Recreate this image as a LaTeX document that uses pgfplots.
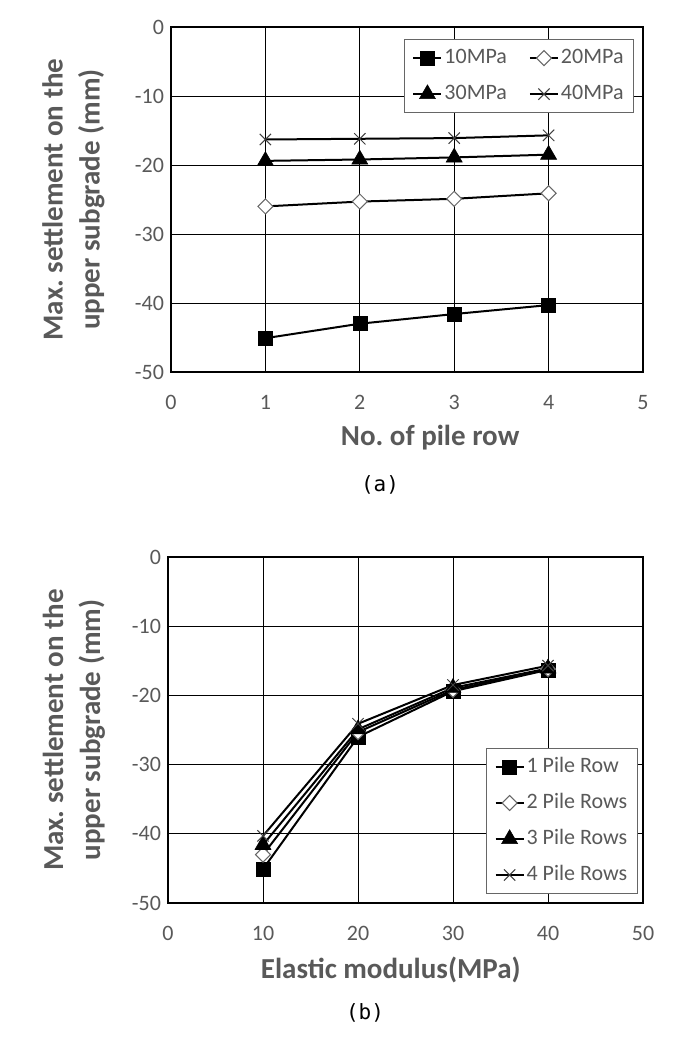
\documentclass[border=0pt]{standalone}
\usepackage{fontspec}
\setmainfont{Carlito}
\newfontfamily\capfont{DejaVu Sans Mono}
\usepackage{pgfplots}
\pgfplotsset{compat=1.18}
\definecolor{txt}{HTML}{595959}
\tikzset{lbl/.style={font=\bfseries\fontsize{14.5bp}{18.5bp}\selectfont, text=txt, align=center}}
\pgfplotsset{
  common/.style={
    scale only axis,
    axis line style={black, line width=0.6bp},
    grid=major,
    major grid style={black, line width=0.5bp},
    major tick length=0pt,
    ymin=-50, ymax=0,
    ytick={-50,-40,-30,-20,-10,0},
    yticklabels={-50,-40,-30,-20,-10,0},
    ticklabel style={font=\fontsize{11bp}{13bp}\selectfont, text=txt},
    xticklabel style={yshift=-8bp},
    legend style={draw=black!60, line width=0.5bp, fill=white,
      font=\fontsize{11bp}{13bp}\selectfont, text=txt,
      inner xsep=4bp, inner ysep=3bp, row sep=5.5bp,
      nodes={inner sep=1bp, text height=8bp, text depth=2.5bp}},
    legend cell align=left,
    legend image code/.code={\draw[mark repeat=2,mark phase=2,##1] plot coordinates {(0bp,0bp) (7bp,0bp) (14bp,0bp)};},
  },
  s1/.style={black, line width=1bp, mark=square*, mark size=3.5bp, mark options={solid, fill=black, draw=black, line width=0.3bp}},
  s2/.style={black, line width=1bp, mark=square*, mark size=2.65bp, mark options={solid, rotate=45, fill=white, draw=black!60, line width=0.5bp}},
  s3/.style={black, line width=1bp, mark=triangle*, mark size=4.6bp, mark options={solid, fill=black, draw=black, line width=0.3bp}},
  s4/.style={black, line width=1bp, mark=x, mark size=4bp, mark options={solid, draw=black!75, line width=0.5bp}},
}
\begin{document}
\begin{tikzpicture}
\path[use as bounding box] (0,0) rectangle (342.5bp,-518.5bp);
% ---------- (a)
\begin{axis}[common,
  at={(85.5bp,-186bp)}, anchor=south west,
  width=236bp, height=172.5bp,
  xmin=0, xmax=5, xtick={0,1,2,3,4,5}, xticklabels={0,1,2,3,4,5},
  every axis y label/.style={at={(rel axis cs:0,0.5)}, xshift=-48.75bp, rotate=90, anchor=center, lbl},
  every axis x label/.style={at={(rel axis cs:0.549,0)}, yshift=-33bp, anchor=center, lbl},
  xlabel={No.\ of pile row},
  ylabel={Max.\ settlement on the\\upper subgrade (mm)},
  legend columns=2,
  legend style={at={(0.981,0.965)}, anchor=north east,
    /tikz/every even column/.append style={column sep=10bp}},
]
\addplot[s1] coordinates {(1,-45.1) (2,-43.0) (3,-41.6) (4,-40.3)};
\addlegendentry{10MPa}
\addplot[s2] coordinates {(1,-26.0) (2,-25.3) (3,-24.9) (4,-24.1)};
\addlegendentry{20MPa}
\addplot[s3] coordinates {(1,-19.4) (2,-19.2) (3,-18.9) (4,-18.5)};
\addlegendentry{30MPa}
\addplot[s4] coordinates {(1,-16.3) (2,-16.2) (3,-16.1) (4,-15.7)};
\addlegendentry{40MPa}
\end{axis}
\node[font=\capfont\fontsize{10.5bp}{12bp}\selectfont] at (190bp,-242.5bp) {(a)};
% ---------- (b)
\begin{axis}[common,
  at={(84bp,-451.5bp)}, anchor=south west,
  width=237.5bp, height=173bp,
  xmin=0, xmax=50, xtick={0,10,20,30,40,50}, xticklabels={0,10,20,30,40,50},
  every axis y label/.style={at={(rel axis cs:0,0.5)}, xshift=-47bp, rotate=90, anchor=center, lbl},
  every axis x label/.style={at={(rel axis cs:0.469,0)}, yshift=-33.5bp, anchor=center, lbl},
  xlabel={Elastic modulus(MPa)},
  ylabel={Max.\ settlement on the\\upper subgrade (mm)},
  legend style={at={(0.989,0.026)}, anchor=south east},
]
\addplot[s1] coordinates {(10,-45.1) (20,-26.0) (30,-19.4) (40,-16.3)};
\addlegendentry{1 Pile Row}
\addplot[s2] coordinates {(10,-43.0) (20,-25.3) (30,-19.2) (40,-16.2)};
\addlegendentry{2 Pile Rows}
\addplot[s3] coordinates {(10,-41.6) (20,-24.9) (30,-18.9) (40,-16.1)};
\addlegendentry{3 Pile Rows}
\addplot[s4] coordinates {(10,-40.3) (20,-24.1) (30,-18.5) (40,-15.7)};
\addlegendentry{4 Pile Rows}
\end{axis}
\node[font=\capfont\fontsize{10.5bp}{12bp}\selectfont] at (182.5bp,-506.5bp) {(b)};
\end{tikzpicture}
\end{document}
